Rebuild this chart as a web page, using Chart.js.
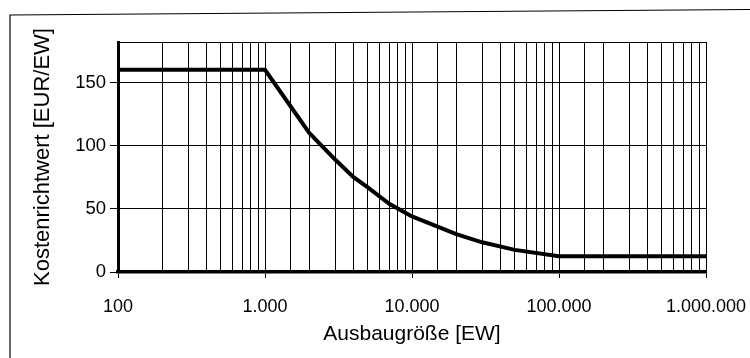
<!DOCTYPE html>
<html>
<head>
<meta charset="utf-8">
<script src="https://cdn.jsdelivr.net/npm/chart.js@4"></script>
<style>
  html, body { margin: 0; padding: 0; background: #fff; }
  #wrap { width: 750px; height: 358px; }
</style>
</head>
<body>
<div id="wrap"><canvas id="kosten" width="750" height="358"></canvas></div>
<script>
// Ausbaugröße [EW] and Kostenrichtwert [EUR/EW]
const ausbaugroesse = [100, 1000, 2000, 3000, 4000, 5000, 7000, 10000, 20000, 30000, 50000, 100000, 1000000];
const kostenrichtwert = [160, 160, 110, 89, 75, 67, 54, 44, 30, 23.5, 17.5, 12.5, 12.5];
const yTicks = [0, 50, 100, 150];
const xTicks = [100, 1000, 10000, 100000, 1000000];

const isDecade = v => xTicks.includes(v);
const fmt = v => String(v).replace(/\B(?=(\d{3})+(?!\d))/g, '.');

const points = ausbaugroesse.map((x, i) => ({ x: x, y: kostenrichtwert[i] }));

// outer frame of the figure
const frame = {
  id: 'frame',
  beforeDraw(chart) {
    const c = chart.ctx;
    c.save();
    c.strokeStyle = '#000';
    c.lineWidth = 1.2;
    c.beginPath();
    c.moveTo(10, 358);
    c.lineTo(10, 15);
    c.lineTo(750, 9.5);
    c.stroke();
    c.restore();
  }
};

Chart.defaults.font.family = '"Liberation Sans", Arial, sans-serif';
Chart.defaults.color = '#000';

new Chart(document.getElementById('kosten'), {
  type: 'line',
  data: {
    datasets: [{
      data: points,
      borderColor: '#000',
      borderWidth: 4,
      pointRadius: 0,
      tension: 0,
      fill: false
    }]
  },
  plugins: [frame],
  options: {
    responsive: false,
    animation: false,
    devicePixelRatio: 1,
    layout: { padding: { left: 28, top: 42, right: 44, bottom: 10 } },
    plugins: { legend: { display: false }, tooltip: { enabled: false } },
    scales: {
      x: {
        type: 'logarithmic',
        min: 100,
        max: 1000000,
        border: { color: '#000', width: 3.5 },
        grid: {
          color: '#000',
          lineWidth: 1,
          tickLength: 6,
          tickColor: ctx => (ctx.tick && isDecade(ctx.tick.value)) ? '#000' : 'rgba(0,0,0,0)'
        },
        ticks: {
          autoSkip: false,
          maxRotation: 0,
          padding: 18,
          font: { size: 18 },
          callback: v => isDecade(v) ? fmt(v) : ''
        },
        title: {
          display: true,
          text: 'Ausbaugröße [EW]',
          font: { size: 21 },
          padding: { top: 1, bottom: 1 }
        },
        afterFit: s => {
          s.height = 76;
          s.paddingLeft = 0;
          s.paddingRight = 0;
        }
      },
      y: {
        min: 0,
        max: 182,
        border: { color: '#000', width: 3 },
        grid: {
          color: '#000',
          lineWidth: 1,
          tickLength: 8,
          tickColor: ctx => (ctx.tick && yTicks.includes(ctx.tick.value)) ? '#000' : 'rgba(0,0,0,0)'
        },
        afterBuildTicks: s => {
          s.ticks = yTicks.map(v => ({ value: v })).concat([{ value: 182 }]);
        },
        ticks: {
          padding: 4,
          font: { size: 18.5 },
          callback: v => yTicks.includes(v) ? String(v) : ''
        },
        title: {
          display: true,
          text: 'Kostenrichtwert [EUR/EW]',
          font: { size: 22 },
          padding: { top: 2, bottom: 2 }
        },
        afterFit: s => { s.width = 90; }
      }
    }
  }
});
</script>
</body>
</html>
